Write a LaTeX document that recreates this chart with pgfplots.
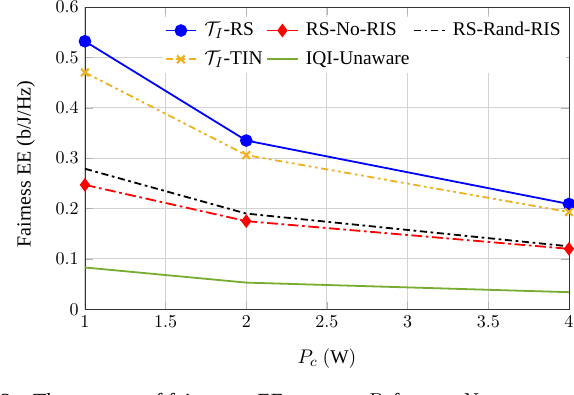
\documentclass[border=0pt]{standalone}
\usepackage{pgfplots}
\pgfplotsset{compat=1.18}
\usepackage{fontspec}
\setmainfont{Liberation Serif}
\definecolor{mblue}{RGB}{0,0,255}
\definecolor{mred}{RGB}{255,0,0}
\definecolor{morange}{RGB}{237,177,32}
\definecolor{mgreen}{RGB}{119,172,48}
\begin{document}
\begin{tikzpicture}
\clip (-47.2pt,-47.2pt) rectangle (271.8pt,171.9pt);
\begin{axis}[
  scale only axis, width=269pt, height=168pt,
  xmin=1, xmax=4, ymin=0, ymax=0.6,
  xtick={1,1.5,2,2.5,3,3.5,4},
  ytick={0,0.1,0.2,0.3,0.4,0.5,0.6},
  grid=major, grid style={gray!35, line width=0.5pt},
  axis line style={black!80},
  tick style={gray!60},
  xlabel={$P_c~\mathrm{(W)}$},
  xlabel style={font=\fontsize{10.8}{12}\selectfont, yshift=-5pt},
  ylabel={Fairness EE (b/J/Hz)},
  ylabel style={font=\fontsize{11.1}{14}\selectfont, at={(axis description cs:-0.122,0.48)}, anchor=center},
  yticklabel style={/pgf/number format/fixed},
  legend columns=3,
  legend style={at={(rel axis cs:0.995,0.968)}, anchor=north east, draw=none, fill=white,
    font=\fontsize{10.8}{12}\selectfont, inner sep=1pt, row sep=3pt,
    /tikz/every odd column/.append style={column sep=2pt}},
  legend cell align=left,
]
\addplot[mblue, line width=1pt, mark=*, mark size=3pt] coordinates {(1,0.532) (2,0.335) (4,0.209)};
\addlegendentry{$\mathcal{T}_I$-RS}
\addplot[mred, line width=1pt, dash pattern=on 6pt off 2pt on 1.5pt off 2pt, mark=diamond*, mark size=3pt, mark options={solid}] coordinates {(1,0.247) (2,0.175) (4,0.120)};
\addlegendentry{RS-No-RIS}
\addplot[black, line width=1pt, dash pattern=on 4pt off 2pt on 1.5pt off 2pt] coordinates {(1,0.279) (2,0.190) (4,0.125)};
\addlegendentry{RS-Rand-RIS}
\addplot[morange, line width=1pt, dash pattern=on 4pt off 2pt on 1.5pt off 2pt on 1.5pt off 2pt, mark=x, mark size=3pt, mark options={solid, line width=1.2pt}] coordinates {(1,0.470) (2,0.306) (4,0.193)};
\addlegendentry{$\mathcal{T}_I$-TIN}
\addplot[mgreen, line width=1pt] coordinates {(1,0.083) (2,0.053) (4,0.034)};
\addlegendentry{IQI-Unaware}
\end{axis}
\begin{scope}[every node/.style={anchor=base west, inner sep=0pt, font=\fontsize{12}{14}\selectfont}]
\node at (-47pt,-55pt) {2.\ \ \ The average of fairness};
\node at (95.6pt,-55pt) {EE\ \ versus\ \ \ $P_c$\ for};
\node at (208.3pt,-55pt) {$N_u\ \ = m$,\ \ \ \ \ $N$};
\end{scope}
\end{tikzpicture}
\end{document}
